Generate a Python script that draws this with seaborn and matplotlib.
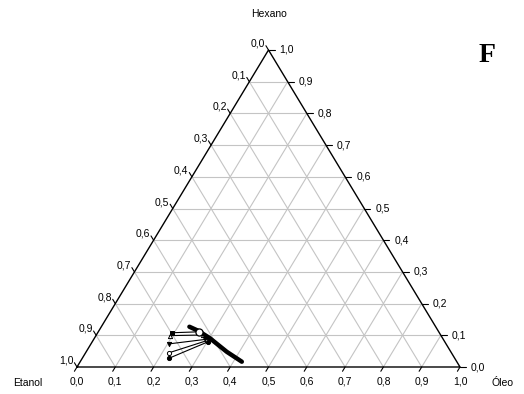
import numpy as np
import pandas as pd
import matplotlib
matplotlib.use("Agg")
import matplotlib.pyplot as plt
import seaborn as sns

# ---- data (mass fractions) ----
# tie lines: left end points -> right end points on the oil-phase curve
tie_left_oleo = [0.193, 0.193, 0.204, 0.218, 0.227]
tie_left_hexano = [0.108, 0.099, 0.073, 0.045, 0.028]
tie_right_oleo = [0.263, 0.279, 0.291, 0.297, 0.303]
tie_right_hexano = [0.111, 0.101, 0.087, 0.083, 0.080]
tie_markers = ["s", "^", "v", "o", "o"]
tie_filled = [True, False, True, False, True]

curve_oleo = [0.230, 0.260, 0.302, 0.367, 0.422]
curve_hexano = [0.127, 0.114, 0.0905, 0.048, 0.0167]

special_oleo = [0.263]
special_hexano = [0.111]

tick_values = [i / 10 for i in range(11)]
tick_labels = [f"{v:.1f}".replace(".", ",") for v in tick_values]


def to_xy(oleo, hexano):
    o = np.asarray(oleo, float)
    h = np.asarray(hexano, float)
    return o + h / 2.0, h


sns.set_theme(style="white")
plt.rcParams["font.family"] = ["Liberation Sans", "DejaVu Sans"]
plt.rcParams["text.color"] = "black"

W, H = 524, 394
fig = plt.figure(figsize=(W / 100, H / 100), dpi=100)
x0, x1, ytop, ybot = 77, 460, 50, 367
ax = fig.add_axes([x0 / W, (H - ybot) / H, (x1 - x0) / W, (ybot - ytop) / H])
ax.set_xlim(0, 1)
ax.set_ylim(0, 1)
ax.axis("off")

# grid
grid_kw = dict(color="#c4c4c4", lw=0.8, zorder=1)
for v in tick_values[1:-1]:
    ax.plot([v / 2, 1 - v / 2], [v, v], **grid_kw)          # const hexano
    ax.plot([v, v + (1 - v) / 2], [0, 1 - v], **grid_kw)    # const oleo
    ax.plot([1 - v, (1 - v) / 2], [0, 1 - v], **grid_kw)    # const etanol

# triangle edges
ax.plot([0, 1, 0.5, 0], [0, 0, 1, 0], color="black", lw=1.0, zorder=2, clip_on=False)

# ticks and labels
pxw, pxh = (x1 - x0), (ybot - ytop)
L = 5.0
ex, ey = 0.5 * pxw, pxh
n = np.hypot(ex, ey)
ex, ey = ex / n, ey / n
tk = dict(color="black", lw=0.8, clip_on=False, zorder=2)
fs = 7.5
for v, lab in zip(tick_values, tick_labels):
    # bottom: oleo
    ax.plot([v, v - ex * L / pxw], [0, -ey * L / pxh], **tk)
    ax.annotate(lab, (v, 0), xytext=(0, -7), textcoords="offset points",
                ha="center", va="top", fontsize=fs, color="black", annotation_clip=False)
    # right: hexano
    xr = 1 - v / 2
    ax.plot([xr, xr + 6 / pxw], [v, v], **tk)
    ax.annotate(lab, (xr, v), xytext=(8, 0), textcoords="offset points",
                ha="left", va="center", fontsize=fs, color="black", annotation_clip=False)
    # left: etanol
    h = 1 - v
    xl = h / 2
    ax.plot([xl, xl - ex * L / pxw], [h, h + ey * L / pxh], **tk)
    ax.annotate(lab, (xl, h), xytext=(-2.5, 2.5), textcoords="offset points",
                ha="right", va="baseline", fontsize=fs, color="black", annotation_clip=False)

# data: tie lines
for i in range(len(tie_left_oleo)):
    xs, ys = to_xy([tie_left_oleo[i], tie_right_oleo[i]],
                   [tie_left_hexano[i], tie_right_hexano[i]])
    df = pd.DataFrame({"x": xs, "y": ys})
    sns.lineplot(data=df, x="x", y="y", sort=False, color="black", lw=0.8,
                 ax=ax, zorder=3)
    fc = "black" if tie_filled[i] else "white"
    sns.scatterplot(data=df, x="x", y="y", marker=tie_markers[i], s=9,
                    color=fc, edgecolor="black", linewidth=0.7, ax=ax, zorder=4)

# thick curve
cx, cy = to_xy(curve_oleo, curve_hexano)
sns.lineplot(data=pd.DataFrame({"x": cx, "y": cy}), x="x", y="y", sort=False,
             color="black", lw=3.2, ax=ax, zorder=5)

sx, sy = to_xy(special_oleo, special_hexano)
sns.scatterplot(data=pd.DataFrame({"x": sx, "y": sy}), x="x", y="y", marker="o",
                s=26, color="white", edgecolor="black", linewidth=0.9, ax=ax, zorder=6)

ax.set_xlabel("")
ax.set_ylabel("")
ax.set_xlim(0, 1)
ax.set_ylim(0, 1)

# axis names
fig.text(269 / W, 1 - 14 / H, "Hexano", ha="center", va="center", fontsize=fs)
fig.text(27.5 / W, 1 - 383 / H, "Etanol", ha="center", va="center", fontsize=fs)
fig.text(502 / W, 1 - 383 / H, "Óleo", ha="center", va="center", fontsize=fs)
fig.text(487 / W, 1 - 55 / H, "F", ha="center", va="center", fontsize=20,
         fontweight="bold", family=["Liberation Serif", "DejaVu Serif"])

fig.savefig("out.png", dpi=100)
